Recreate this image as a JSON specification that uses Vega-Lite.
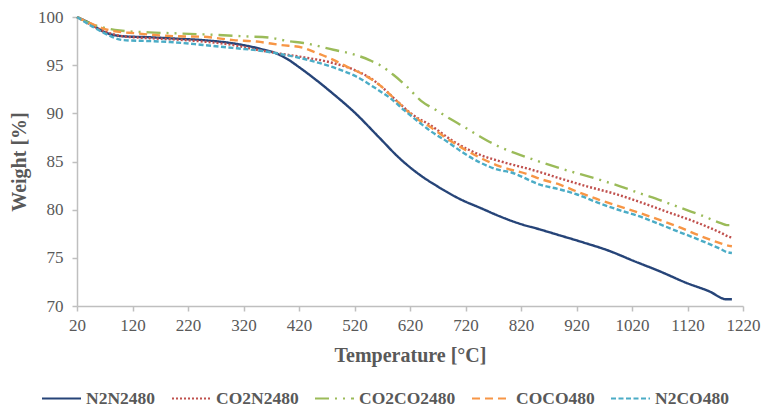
{
  "$schema": "https://vega.github.io/schema/vega-lite/v6.json",
  "width": 666,
  "height": 289,
  "autosize": "none",
  "padding": {"left": 77, "top": 17, "right": 19, "bottom": 101},
  "background": "white",
  "config": {
    "view": {"stroke": null},
    "font": "Liberation Serif",
    "axis": {
      "domainColor": "#BFBFBF",
      "domainWidth": 1.5,
      "tickColor": "#BFBFBF",
      "tickWidth": 1.5,
      "tickSize": 5,
      "grid": false,
      "labelFont": "Liberation Serif",
      "labelFontSize": 17,
      "labelColor": "#595959",
      "titleFont": "Liberation Serif",
      "titleFontSize": 20,
      "titleFontWeight": "bold",
      "titleColor": "#595959"
    },
    "legend": {
      "labelFont": "Liberation Serif",
      "labelFontSize": 17.5,
      "labelFontWeight": "bold",
      "labelColor": "#595959"
    }
  },
  "datasets": {
    "tga": [
      {"s": "N2N2480", "t": 20, "w": 100},
      {"s": "N2N2480", "t": 45, "w": 99.3},
      {"s": "N2N2480", "t": 67, "w": 98.5},
      {"s": "N2N2480", "t": 103, "w": 98.0},
      {"s": "N2N2480", "t": 150, "w": 97.9},
      {"s": "N2N2480", "t": 200, "w": 97.75},
      {"s": "N2N2480", "t": 247, "w": 97.6},
      {"s": "N2N2480", "t": 308, "w": 97.2},
      {"s": "N2N2480", "t": 350, "w": 96.7},
      {"s": "N2N2480", "t": 380, "w": 96.2},
      {"s": "N2N2480", "t": 400, "w": 95.6},
      {"s": "N2N2480", "t": 420, "w": 94.8},
      {"s": "N2N2480", "t": 450, "w": 93.5},
      {"s": "N2N2480", "t": 480, "w": 92.1},
      {"s": "N2N2480", "t": 520, "w": 90.1},
      {"s": "N2N2480", "t": 566, "w": 87.4},
      {"s": "N2N2480", "t": 600, "w": 85.4},
      {"s": "N2N2480", "t": 638, "w": 83.6},
      {"s": "N2N2480", "t": 670, "w": 82.4},
      {"s": "N2N2480", "t": 710, "w": 81.1},
      {"s": "N2N2480", "t": 750, "w": 80.1},
      {"s": "N2N2480", "t": 782, "w": 79.3},
      {"s": "N2N2480", "t": 820, "w": 78.5},
      {"s": "N2N2480", "t": 854, "w": 77.95},
      {"s": "N2N2480", "t": 880, "w": 77.5},
      {"s": "N2N2480", "t": 932, "w": 76.6},
      {"s": "N2N2480", "t": 980, "w": 75.7},
      {"s": "N2N2480", "t": 1022, "w": 74.7},
      {"s": "N2N2480", "t": 1070, "w": 73.6},
      {"s": "N2N2480", "t": 1118, "w": 72.4},
      {"s": "N2N2480", "t": 1160, "w": 71.5},
      {"s": "N2N2480", "t": 1190, "w": 70.7},
      {"s": "N2N2480", "t": 1200, "w": 70.7},

      {"s": "CO2N2480", "t": 20, "w": 100},
      {"s": "CO2N2480", "t": 45, "w": 99.2},
      {"s": "CO2N2480", "t": 70, "w": 98.5},
      {"s": "CO2N2480", "t": 103, "w": 98.0},
      {"s": "CO2N2480", "t": 150, "w": 97.8},
      {"s": "CO2N2480", "t": 200, "w": 97.65},
      {"s": "CO2N2480", "t": 247, "w": 97.45},
      {"s": "CO2N2480", "t": 300, "w": 97.1},
      {"s": "CO2N2480", "t": 344, "w": 96.6},
      {"s": "CO2N2480", "t": 386, "w": 96.2},
      {"s": "CO2N2480", "t": 430, "w": 95.8},
      {"s": "CO2N2480", "t": 476, "w": 95.3},
      {"s": "CO2N2480", "t": 524, "w": 94.4},
      {"s": "CO2N2480", "t": 550, "w": 93.6},
      {"s": "CO2N2480", "t": 566, "w": 92.9},
      {"s": "CO2N2480", "t": 596, "w": 91.3},
      {"s": "CO2N2480", "t": 626, "w": 89.8},
      {"s": "CO2N2480", "t": 656, "w": 88.8},
      {"s": "CO2N2480", "t": 698, "w": 87.1},
      {"s": "CO2N2480", "t": 746, "w": 85.7},
      {"s": "CO2N2480", "t": 790, "w": 84.9},
      {"s": "CO2N2480", "t": 836, "w": 84.2},
      {"s": "CO2N2480", "t": 854, "w": 83.9},
      {"s": "CO2N2480", "t": 890, "w": 83.25},
      {"s": "CO2N2480", "t": 940, "w": 82.4},
      {"s": "CO2N2480", "t": 992, "w": 81.6},
      {"s": "CO2N2480", "t": 1034, "w": 80.8},
      {"s": "CO2N2480", "t": 1082, "w": 79.8},
      {"s": "CO2N2480", "t": 1140, "w": 78.6},
      {"s": "CO2N2480", "t": 1180, "w": 77.6},
      {"s": "CO2N2480", "t": 1194, "w": 77.2},
      {"s": "CO2N2480", "t": 1200, "w": 77.1},

      {"s": "CO2CO2480", "t": 20, "w": 100},
      {"s": "CO2CO2480", "t": 50, "w": 99.2},
      {"s": "CO2CO2480", "t": 97, "w": 98.6},
      {"s": "CO2CO2480", "t": 150, "w": 98.4},
      {"s": "CO2CO2480", "t": 200, "w": 98.3},
      {"s": "CO2CO2480", "t": 247, "w": 98.2},
      {"s": "CO2CO2480", "t": 320, "w": 98.0},
      {"s": "CO2CO2480", "t": 368, "w": 97.85},
      {"s": "CO2CO2480", "t": 400, "w": 97.5},
      {"s": "CO2CO2480", "t": 428, "w": 97.3},
      {"s": "CO2CO2480", "t": 482, "w": 96.6},
      {"s": "CO2CO2480", "t": 520, "w": 96.1},
      {"s": "CO2CO2480", "t": 548, "w": 95.5},
      {"s": "CO2CO2480", "t": 566, "w": 95.0},
      {"s": "CO2CO2480", "t": 590, "w": 94.0},
      {"s": "CO2CO2480", "t": 614, "w": 92.8},
      {"s": "CO2CO2480", "t": 640, "w": 91.3},
      {"s": "CO2CO2480", "t": 668, "w": 90.3},
      {"s": "CO2CO2480", "t": 686, "w": 89.65},
      {"s": "CO2CO2480", "t": 720, "w": 88.5},
      {"s": "CO2CO2480", "t": 746, "w": 87.6},
      {"s": "CO2CO2480", "t": 782, "w": 86.5},
      {"s": "CO2CO2480", "t": 818, "w": 85.7},
      {"s": "CO2CO2480", "t": 863, "w": 84.8},
      {"s": "CO2CO2480", "t": 890, "w": 84.3},
      {"s": "CO2CO2480", "t": 962, "w": 83.1},
      {"s": "CO2CO2480", "t": 1000, "w": 82.4},
      {"s": "CO2CO2480", "t": 1034, "w": 81.7},
      {"s": "CO2CO2480", "t": 1070, "w": 81.0},
      {"s": "CO2CO2480", "t": 1112, "w": 80.1},
      {"s": "CO2CO2480", "t": 1150, "w": 79.3},
      {"s": "CO2CO2480", "t": 1180, "w": 78.6},
      {"s": "CO2CO2480", "t": 1191, "w": 78.4},
      {"s": "CO2CO2480", "t": 1200, "w": 78.4},

      {"s": "COCO480", "t": 20, "w": 100},
      {"s": "COCO480", "t": 50, "w": 99.2},
      {"s": "COCO480", "t": 80, "w": 98.6},
      {"s": "COCO480", "t": 127, "w": 98.3},
      {"s": "COCO480", "t": 200, "w": 98.0},
      {"s": "COCO480", "t": 247, "w": 97.95},
      {"s": "COCO480", "t": 302, "w": 97.6},
      {"s": "COCO480", "t": 344, "w": 97.45},
      {"s": "COCO480", "t": 386, "w": 97.1},
      {"s": "COCO480", "t": 428, "w": 96.8},
      {"s": "COCO480", "t": 446, "w": 96.4},
      {"s": "COCO480", "t": 480, "w": 95.6},
      {"s": "COCO480", "t": 506, "w": 94.85},
      {"s": "COCO480", "t": 540, "w": 93.9},
      {"s": "COCO480", "t": 566, "w": 92.9},
      {"s": "COCO480", "t": 596, "w": 91.3},
      {"s": "COCO480", "t": 626, "w": 89.7},
      {"s": "COCO480", "t": 656, "w": 88.6},
      {"s": "COCO480", "t": 686, "w": 87.4},
      {"s": "COCO480", "t": 720, "w": 86.2},
      {"s": "COCO480", "t": 746, "w": 85.4},
      {"s": "COCO480", "t": 782, "w": 84.5},
      {"s": "COCO480", "t": 836, "w": 83.6},
      {"s": "COCO480", "t": 854, "w": 83.2},
      {"s": "COCO480", "t": 890, "w": 82.6},
      {"s": "COCO480", "t": 920, "w": 81.9},
      {"s": "COCO480", "t": 962, "w": 81.0},
      {"s": "COCO480", "t": 1000, "w": 80.3},
      {"s": "COCO480", "t": 1052, "w": 79.3},
      {"s": "COCO480", "t": 1100, "w": 78.3},
      {"s": "COCO480", "t": 1142, "w": 77.3},
      {"s": "COCO480", "t": 1180, "w": 76.5},
      {"s": "COCO480", "t": 1191, "w": 76.3},
      {"s": "COCO480", "t": 1200, "w": 76.2},

      {"s": "N2CO480", "t": 20, "w": 100},
      {"s": "N2CO480", "t": 45, "w": 99.1},
      {"s": "N2CO480", "t": 70, "w": 98.3},
      {"s": "N2CO480", "t": 103, "w": 97.6},
      {"s": "N2CO480", "t": 150, "w": 97.5},
      {"s": "N2CO480", "t": 188, "w": 97.4},
      {"s": "N2CO480", "t": 247, "w": 97.1},
      {"s": "N2CO480", "t": 308, "w": 96.75},
      {"s": "N2CO480", "t": 350, "w": 96.5},
      {"s": "N2CO480", "t": 392, "w": 96.1},
      {"s": "N2CO480", "t": 446, "w": 95.4},
      {"s": "N2CO480", "t": 490, "w": 94.6},
      {"s": "N2CO480", "t": 524, "w": 93.8},
      {"s": "N2CO480", "t": 550, "w": 92.9},
      {"s": "N2CO480", "t": 566, "w": 92.3},
      {"s": "N2CO480", "t": 584, "w": 91.6},
      {"s": "N2CO480", "t": 610, "w": 90.3},
      {"s": "N2CO480", "t": 638, "w": 89.0},
      {"s": "N2CO480", "t": 656, "w": 88.2},
      {"s": "N2CO480", "t": 686, "w": 87.1},
      {"s": "N2CO480", "t": 716, "w": 85.9},
      {"s": "N2CO480", "t": 746, "w": 84.9},
      {"s": "N2CO480", "t": 782, "w": 84.1},
      {"s": "N2CO480", "t": 800, "w": 83.9},
      {"s": "N2CO480", "t": 854, "w": 82.6},
      {"s": "N2CO480", "t": 890, "w": 82.1},
      {"s": "N2CO480", "t": 920, "w": 81.6},
      {"s": "N2CO480", "t": 962, "w": 80.65},
      {"s": "N2CO480", "t": 1000, "w": 79.9},
      {"s": "N2CO480", "t": 1034, "w": 79.3},
      {"s": "N2CO480", "t": 1052, "w": 78.9},
      {"s": "N2CO480", "t": 1100, "w": 77.8},
      {"s": "N2CO480", "t": 1142, "w": 76.85},
      {"s": "N2CO480", "t": 1180, "w": 75.9},
      {"s": "N2CO480", "t": 1191, "w": 75.6},
      {"s": "N2CO480", "t": 1200, "w": 75.5}
    ]
  },
  "data": {"name": "tga"},
  "mark": {"type": "line", "strokeWidth": 2.4, "interpolate": "monotone", "strokeCap": "butt"},
  "encoding": {
    "x": {
      "field": "t",
      "type": "quantitative",
      "title": "Temperature [°C]",
      "scale": {"domain": [20, 1220], "nice": false, "zero": false},
      "axis": {
        "values": [20, 120, 220, 320, 420, 520, 620, 720, 820, 920, 1020, 1120, 1220],
        "format": "d",
        "labelPadding": 6,
        "titlePadding": 12,
        "labelFlush": false,
        "labelOverlap": false
      }
    },
    "y": {
      "field": "w",
      "type": "quantitative",
      "title": "Weight [%]",
      "scale": {"domain": [70, 100], "nice": false, "zero": false},
      "axis": {
        "values": [70, 75, 80, 85, 90, 95, 100],
        "labelPadding": 9,
        "titlePadding": 8,
        "labelFlush": false,
        "labelOverlap": false
      }
    },
    "color": {
      "field": "s",
      "type": "nominal",
      "title": null,
      "scale": {
        "domain": ["N2N2480", "CO2N2480", "CO2CO2480", "COCO480", "N2CO480"],
        "range": ["#264478", "#C0504D", "#9BBB59", "#F79646", "#4BACC6"]
      },
      "legend": {
        "orient": "none",
        "direction": "horizontal",
        "legendX": -36,
        "legendY": 361,
        "symbolType": "stroke",
        "symbolSize": 1521,
        "symbolStrokeWidth": 2,
        "labelOffset": 4,
        "columnPadding": 12
      }
    },
    "strokeDash": {
      "field": "s",
      "type": "nominal",
      "title": null,
      "scale": {
        "domain": ["N2N2480", "CO2N2480", "CO2CO2480", "COCO480", "N2CO480"],
        "range": [[1, 0], [2, 2], [14, 6, 2, 6, 2, 6], [8, 5], [5, 2.5]]
      }
    }
  }
}
